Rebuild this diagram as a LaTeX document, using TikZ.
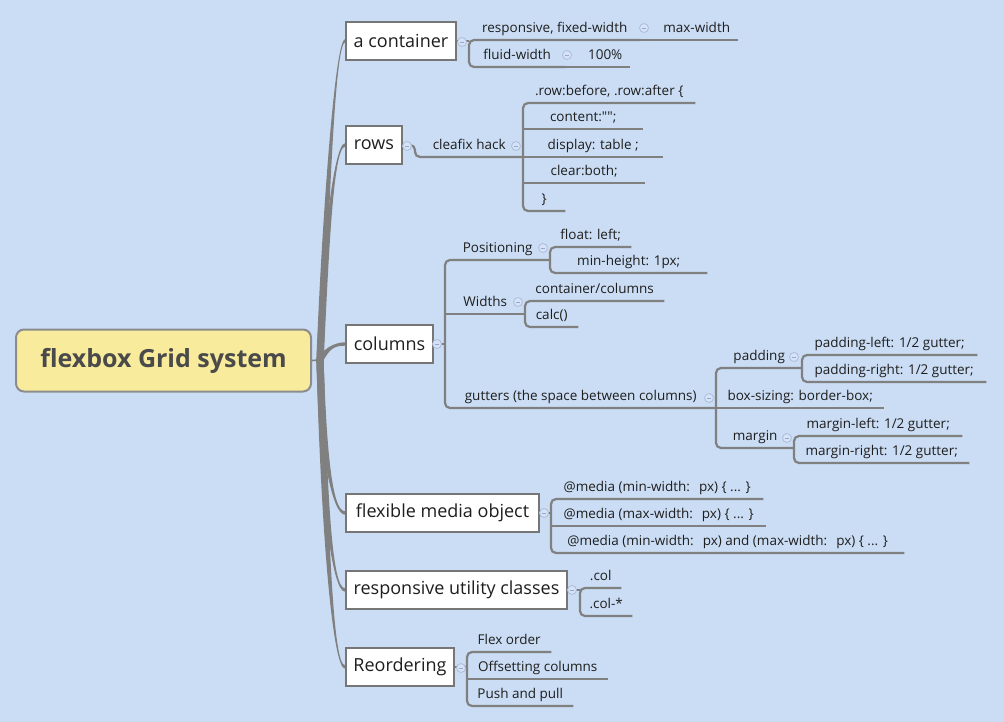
\documentclass[tikz,border=0pt]{standalone}
\usepackage{fontspec}
\setmainfont{Open Sans}[Ligatures=TeXOff]
\usetikzlibrary{calc}
\definecolor{bg}{RGB}{203,221,244}
\definecolor{lineg}{RGB}{128,128,128}
\definecolor{boxb}{RGB}{118,118,118}
\definecolor{rootfill}{RGB}{248,235,156}
\definecolor{rootb}{RGB}{140,140,140}
\definecolor{roottxt}{RGB}{74,74,74}
\definecolor{txt}{RGB}{30,30,30}
\definecolor{mkline}{RGB}{172,188,220}
\definecolor{mkfill}{RGB}{214,226,245}
\definecolor{mkminus}{RGB}{150,168,205}
\pgfdeclarelayer{back}
\pgfsetlayers{back,main}
\newcommand\gap{\hspace{9pt}}
\newcommand\trunkto[5]{\fill[trunk] ([xshift=-3.6pt]rj) .. controls +#2 and +#3 .. ([yshift=#4]#1.west) -- ([yshift=#5]#1.west) .. controls +#3 and +#2 .. ([xshift=3.6pt]rj) -- cycle;}
\begin{document}
\begin{tikzpicture}[x=1pt,y=-1pt,
  conn/.style={draw=lineg, line width=2.2pt},
  trunk/.style={fill=lineg},
  rootbox/.style={draw=rootb, line width=2pt, fill=rootfill, rounded corners=8pt,
    minimum width=295, minimum height=62, inner sep=0, text=roottxt,
    font=\fontsize{25}{29}\selectfont\bfseries},
  mainbox/.style={anchor=west, draw=boxb, line width=2pt, fill=white, inner sep=0,
    minimum height=38, text=txt, font=\fontsize{18}{21}\selectfont},
  leaf/.style={anchor=south west, inner sep=0, minimum height=25, text height=13pt,
    text depth=3pt, text=txt, font=\fontsize{13.5}{16}\selectfont},
  marker/.style={circle, minimum size=9, inner sep=0, draw=mkline, fill=mkfill, line width=0.8pt,
    path picture={\draw[mkminus, line width=0.9pt]
      ([xshift=-2.3pt]path picture bounding box.center) -- ([xshift=2.3pt]path picture bounding box.center);}},
  rc/.style={rounded corners=5pt}
]
\begin{pgfonlayer}{back}
\fill[bg] (0,0) rectangle (1004,722);
\end{pgfonlayer}
\useasboundingbox (0,0) rectangle (1004,722);

% root and main topics
\node[rootbox] (root) at (163.5,360.5) {flexbox Grid system};
\coordinate (rj) at (320,360);
\node[mainbox, minimum width=110] (ca) at (345,41) {a container};
\node[mainbox, minimum width=56] (rows) at (345,145) {rows};
\node[mainbox, minimum width=87] (cols) at (345,344) {columns};
\node[mainbox, minimum width=193] (flex) at (345,513) {flexible media object};
\node[mainbox, minimum width=221] (resp) at (345,590) {responsive utility classes};
\node[mainbox, minimum width=108] (reo) at (345,667) {Reordering};

% leaves
\node[leaf, minimum width=171] (rfw) at (469,40) {responsive, fixed-width};
\node[leaf, minimum width=83] (maxw) at (655,40) {max-width};
\node[leaf, minimum width=96] (fluid) at (469,67) {fluid-width};
\node[leaf, minimum width=50] (hund) at (580,67) {100\%};

\node[leaf, minimum width=108] (cf) at (415,157) {cleafix hack};
\node[leaf, minimum width=172] (r1) at (523,103) {.row:before, .row:after \{};
\node[leaf, minimum width=120] (r2) at (523,129) {content:"";};
\node[leaf, minimum width=140] (r3) at (523,157) {display: table ;};
\node[leaf, minimum width=122] (r4) at (523,183) {clear:both;};
\node[leaf, minimum width=42] (r5) at (523,211) {\}};

\node[leaf, minimum width=105] (pos) at (445,260) {Positioning};
\node[leaf, minimum width=81] (fl) at (550,247) {float: left;};
\node[leaf, minimum width=157] (mh) at (550,273) {min-height: 1px;};
\node[leaf, minimum width=80] (wid) at (445,314) {Widths};
\node[leaf, minimum width=139] (cc) at (525,301) {container/columns};
\node[leaf, minimum width=53] (calc) at (525,327) {calc()};
\node[leaf, minimum width=271] (gut) at (445,408) {gutters (the space between columns)};
\node[leaf, minimum width=86] (pad) at (716,368) {padding};
\node[leaf, minimum width=175] (pl) at (802,355) {padding-left: 1/2 gutter;};
\node[leaf, minimum width=184] (pr) at (802,382) {padding-right: 1/2 gutter;};
\node[leaf, minimum width=168] (bs) at (716,408) {box-sizing: border-box;};
\node[leaf, minimum width=78] (mar) at (716,448) {margin};
\node[leaf, minimum width=168] (ml) at (794,436) {margin-left: 1/2 gutter;};
\node[leaf, minimum width=175] (mr) at (794,463) {margin-right: 1/2 gutter;};

\node[leaf, minimum width=212] (md1) at (551,499) {@media (min-width:\gap px) \{ ... \}};
\node[leaf, minimum width=215] (md2) at (551,526) {@media (max-width:\gap px) \{ ... \}};
\node[leaf, minimum width=353] (md3) at (551,553) {@media (min-width:\gap px) and (max-width:\gap px) \{ ... \}};

\node[leaf, minimum width=41] (c1) at (580,588) {.col};
\node[leaf, minimum width=52] (c2) at (580,616) {.col-*};

\node[leaf, minimum width=84] (fo) at (467,652) {Flex order};
\node[leaf, minimum width=141] (oc) at (467,679) {Offsetting columns};
\node[leaf, minimum width=106] (pp) at (467,706) {Push and pull};

\begin{pgfonlayer}{back}
% trunk
\draw[lineg, line width=1.6pt] (root.east) -- (rj);
\trunkto{ca}{(4,-110)}{(-11,0)}{1.7pt}{-1.7pt}
\trunkto{rows}{(5,-100)}{(-12,0)}{1.7pt}{-1.7pt}
\trunkto{cols}{(6,-10)}{(-12,0)}{1.7pt}{-1.7pt}
\trunkto{flex}{(3,90)}{(-13,0)}{-1.7pt}{1.7pt}
\trunkto{resp}{(4,140)}{(-13,0)}{-1.7pt}{1.7pt}
\trunkto{reo}{(5,180)}{(-12,0)}{-1.7pt}{1.7pt}
\end{pgfonlayer}

% connectors: a container
\draw[conn] (ca.east) -- (ca.east -| rfw.south west);
\draw[conn, rc] (rfw.south east) -- (rfw.south west) -- (fluid.south west) -- (fluid.south east);
\draw[conn] (rfw.south east) -- (maxw.south west) -- (maxw.south east);
\draw[conn] (fluid.south east) -- (hund.south west) -- (hund.south east);
% rows
\draw[conn, rc] (rows.east) -- (rows.east -| cf.south west) -- (cf.south west) -- (cf.south east);
\draw[conn, rc] (r1.south east) -- (r1.south west) -- (r5.south west) -- (r5.south east);
\foreach \n in {r2,r3,r4} \draw[conn] (\n.south west) -- (\n.south east);
% columns
\draw[conn] (cols.east) -- (cols.east -| pos.south west);
\draw[conn, rc] (pos.south east) -- (pos.south west) -- (gut.south west) -- (gut.south east);
\draw[conn] (wid.south west) -- (wid.south east);
\draw[conn, rc] (fl.south east) -- (fl.south west) -- (mh.south west) -- (mh.south east);
\draw[conn, rc] (cc.south east) -- (cc.south west) -- (calc.south west) -- (calc.south east);
\draw[conn, rc] (pad.south east) -- (pad.south west) -- (mar.south west) -- (mar.south east);
\draw[conn] (bs.south west) -- (bs.south east);
\draw[conn, rc] (pl.south east) -- (pl.south west) -- (pr.south west) -- (pr.south east);
\draw[conn, rc] (ml.south east) -- (ml.south west) -- (mr.south west) -- (mr.south east);
% flexible media object
\draw[conn] (flex.east) -- (flex.east -| md1.south west);
\draw[conn, rc] (md1.south east) -- (md1.south west) -- (md3.south west) -- (md3.south east);
\draw[conn] (md2.south west) -- (md2.south east);
% responsive utility classes
\draw[conn] (resp.east) -- (resp.east -| c1.south west);
\draw[conn, rc] (c1.south east) -- (c1.south west) -- (c2.south west) -- (c2.south east);
% reordering
\draw[conn] (reo.east) -- (reo.east -| fo.south west);
\draw[conn, rc] (fo.south east) -- (fo.south west) -- (pp.south west) -- (pp.south east);
\draw[conn] (oc.south west) -- (oc.south east);

% collapse markers
\node[marker] (mk1) at (462,42) {};
\node[marker] (mk2) at (644,28) {};
\node[marker] (mk3) at (567,55) {};
\node[marker] (mk4) at (407,146) {};
\node[marker] (mk5) at (516,146) {};
\node[marker] (mk6) at (437,344) {};
\node[marker] (mk7) at (543,248) {};
\node[marker] (mk8) at (518,302) {};
\node[marker] (mk9) at (709,398) {};
\node[marker] (mk10) at (794,357) {};
\node[marker] (mk11) at (787,438) {};
\node[marker] (mk12) at (544,513) {};
\node[marker] (mk13) at (572,590) {};
\node[marker] (mk14) at (461,668) {};
\end{tikzpicture}
\end{document}
